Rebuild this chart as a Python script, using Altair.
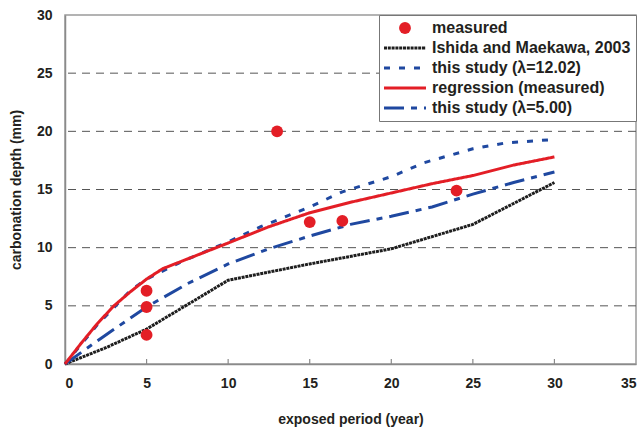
import altair as alt
import pandas as pd

# ---- data ----
S_MEAS = "measured"
S_ISH = "Ishida and Maekawa, 2003"
S_L12 = "this study (λ=12.02)"
S_REG = "regression (measured)"
S_L5 = "this study (λ=5.00)"
series_order = [S_MEAS, S_ISH, S_L12, S_REG, S_L5]

meas_x = [5, 5, 5, 13, 15, 17, 24]
meas_y = [6.3, 4.9, 2.5, 20.0, 12.2, 12.3, 14.9]

ish_x = [0, 2.5, 5, 10, 15, 20, 25, 27.5, 30]
ish_y = [0, 1.4, 3.0, 7.2, 8.6, 9.9, 12.0, 13.8, 15.6]

reg_x = [0, 1, 2, 3, 4, 5, 6, 8, 10, 12.5, 15, 17.5, 20, 22.5, 25, 27.5, 30]
reg_y = [0, 1.8, 3.5, 5.0, 6.2, 7.3, 8.2, 9.3, 10.4, 11.8, 13.0, 13.9, 14.7, 15.5, 16.2, 17.1, 17.8]

l12_x = [0, 2, 4, 5, 7, 10, 12, 15, 17, 20, 22, 25, 27, 30]
l12_y = [0, 3.4, 6.3, 7.3, 8.7, 10.5, 11.8, 13.5, 14.8, 16.1, 17.3, 18.5, 19.0, 19.3]

l5_x = [0, 2.5, 5, 7.5, 10, 12.5, 15, 17.5, 20, 22.5, 25, 27.5, 30]
l5_y = [0, 2.5, 4.9, 6.9, 8.6, 9.9, 11.0, 12.0, 12.7, 13.5, 14.6, 15.6, 16.5]

x_ticks = [0, 5, 10, 15, 20, 25, 30, 35]
y_ticks = [0, 5, 10, 15, 20, 25, 30]
x_inner_ticks = [5, 10, 15, 20, 25, 30]
grid_y = [5, 10, 15, 20, 25]

colors = ["#e31e26", "#1e1e1e", "#1f48a0", "#e31e26", "#1f48a0"]
dashes = [[1, 0], [3, 0.8], [6, 9], [1, 0], [20, 7, 6, 7]]

# ---- tables ----
rows = []
for name, xs, ys in [(S_ISH, ish_x, ish_y), (S_L5, l5_x, l5_y),
                     (S_L12, l12_x, l12_y), (S_REG, reg_x, reg_y)]:
    for a, b in zip(xs, ys):
        rows.append({"series": name, "x": a, "y": b})
lines_df = pd.DataFrame(rows)
meas_df = pd.DataFrame({"series": [S_MEAS] * len(meas_x), "x": meas_x, "y": meas_y})
ticks_df = pd.DataFrame({"x": x_inner_ticks})

W, H = 571, 349
FONT = "Liberation Sans"
TXT = "#231f20"

xscale = alt.Scale(domain=[0, 35], nice=False, zero=True)
yscale = alt.Scale(domain=[0, 30], nice=False)

is_meas = "datum.value === 'measured'"
legend = alt.Legend(
    title=None, orient="top-right", offset=0,
    strokeColor="#777", fillColor="white", padding=5,
    labelFont=FONT, labelFontSize=16, labelFontWeight="bold", labelColor=TXT,
    labelLimit=400, labelOffset=19, symbolOffset=13, rowPadding=4, clipHeight=16,
    symbolType=alt.ExprRef(expr=f"{is_meas} ? 'circle' : 'stroke'"),
    symbolSize=alt.ExprRef(expr=f"{is_meas} ? 140 : 1764"),
    symbolFillColor=alt.ExprRef(expr=f"{is_meas} ? '#e31e26' : 'transparent'"),
    symbolStrokeWidth=alt.ExprRef(expr=f"{is_meas} ? 0 : 3"),
)

color_enc = alt.Color("series:N", scale=alt.Scale(domain=series_order, range=colors),
                      sort=series_order, legend=legend)
dash_enc = alt.StrokeDash("series:N", scale=alt.Scale(domain=series_order, range=dashes),
                          sort=series_order, legend=legend)

axis_style = dict(
    labelFont=FONT, labelFontSize=14, labelFontWeight="bold", labelColor=TXT,
    titleFont=FONT, titleFontSize=14, titleFontWeight="bold", titleColor=TXT,
    grid=False, tickSize=0, domainColor="#8a8a8a", domainWidth=1.5,
)
x_axis = alt.Axis(values=x_ticks, title="exposed period (year)",
                  labelPadding=12, titlePadding=22, **axis_style)
y_axis = alt.Axis(values=y_ticks, title="carbonation depth (mm)",
                  labelPadding=13, titlePadding=13, **axis_style)

grid = alt.Chart(pd.DataFrame({"y": grid_y})).mark_rule(
    color="#555", strokeWidth=1, strokeDash=[8, 6]
).encode(y=alt.Y("y:Q", scale=yscale, axis=y_axis))

xt = alt.Chart(ticks_df).mark_rule(color="#8a8a8a", strokeWidth=1.2).encode(
    x=alt.X("x:Q", scale=xscale, axis=x_axis), y=alt.value(H), y2=alt.value(H - 5)
)

lines = alt.Chart(lines_df).mark_line(strokeWidth=3).encode(
    x=alt.X("x:Q", scale=xscale, axis=x_axis),
    y=alt.Y("y:Q", scale=yscale, axis=y_axis),
    color=color_enc,
    strokeDash=dash_enc,
    detail="series:N",
    order=alt.Order("x:Q"),
)

points = alt.Chart(meas_df).mark_point(filled=True, size=140, opacity=1).encode(
    x=alt.X("x:Q", scale=xscale, axis=x_axis),
    y=alt.Y("y:Q", scale=yscale, axis=y_axis),
    color=color_enc,
)

chart = alt.layer(grid, xt, lines, points).properties(
    width=W, height=H,
    background="white",
    autosize=alt.AutoSizeParams(type="none"),
    padding={"left": 65, "top": 15, "right": 5, "bottom": 71},
).configure_view(stroke="#9a9a9a", strokeWidth=1.5)

chart.save("out.html", embed_options={"renderer": "svg", "actions": False})
